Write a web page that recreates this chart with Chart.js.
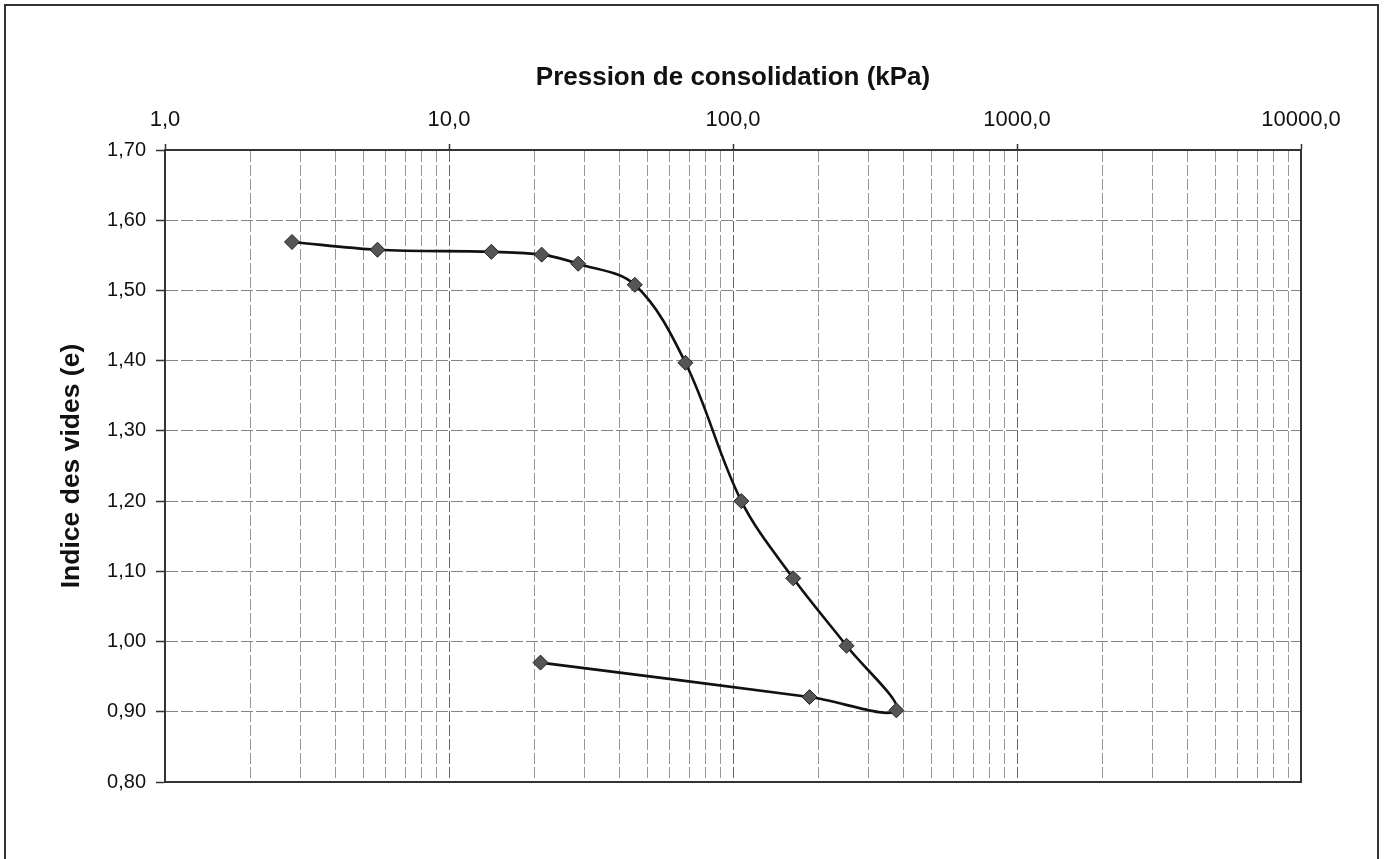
<!DOCTYPE html>
<html>
<head>
<meta charset="utf-8">
<script src="https://cdn.jsdelivr.net/npm/chart.js@4/dist/chart.umd.min.js"></script>
<style>
  html, body { margin: 0; padding: 0; background: #fff; }
  #wrap { position: absolute; left: 0; top: 0; width: 1384px; height: 859px; }
</style>
</head>
<body>
<div id="wrap"><canvas id="c" width="1384" height="859"></canvas></div>
<script>
// Essai oedométrique : indice des vides en fonction de la pression (chargement puis déchargement)
const pressions = [2.8, 5.6, 14.1, 21.2, 28.5, 45.1, 68, 107, 163, 251, 376, 186, 21.0];
const indicesVides = [1.569, 1.558, 1.555, 1.551, 1.538, 1.508, 1.397, 1.200, 1.090, 0.994, 0.902, 0.921, 0.970];

// Graduations de l'axe logarithmique
const decades = [1, 10, 100, 1000, 10000];
const xTickLabels = ['1,0', '10,0', '100,0', '1000,0', '10000,0'];
const yTickLabels = ['0,80', '0,90', '1,00', '1,10', '1,20', '1,30', '1,40', '1,50', '1,60', '1,70'];
const yTickValues = [0.8, 0.9, 1.0, 1.1, 1.2, 1.3, 1.4, 1.5, 1.6, 1.7];

const FONT = "'Liberation Sans', Arial, Helvetica, sans-serif";

const points = pressions.map((p, i) => ({ x: p, y: indicesVides[i] }));

const isMajor = v => decades.some(d => Math.abs(v - d) < 1e-9 * d);

const framePlugin = {
  id: 'frame',
  beforeDraw(chart) {
    const ctx = chart.ctx;
    ctx.save();
    ctx.fillStyle = '#fff';
    ctx.fillRect(0, 0, chart.width, chart.height);
    ctx.strokeStyle = '#333';
    ctx.lineWidth = 2;
    ctx.strokeRect(5, 5, 1373, 900);
    ctx.restore();
  },
  beforeDatasetsDraw(chart) {
    const a = chart.chartArea;
    const ctx = chart.ctx;
    ctx.save();
    ctx.strokeStyle = '#333';
    ctx.lineWidth = 2;
    ctx.strokeRect(a.left, a.top, a.right - a.left, a.bottom - a.top);
    ctx.restore();
  }
};

new Chart(document.getElementById('c'), {
  type: 'scatter',
  data: {
    datasets: [{
      data: points,
      showLine: true,
      tension: 0.35,
      borderColor: '#111',
      borderWidth: 2.6,
      pointStyle: 'rectRot',
      pointRadius: 7.5,
      pointBackgroundColor: '#555',
      pointBorderColor: '#222',
      pointBorderWidth: 1,
      clip: false
    }]
  },
  options: {
    responsive: false,
    animation: false,
    events: [],
    layout: { padding: { left: 0, top: 0, right: 83, bottom: 77 } },
    plugins: { legend: { display: false }, tooltip: { enabled: false } },
    scales: {
      x: {
        type: 'logarithmic',
        position: 'top',
        min: 1,
        max: 10000,
        afterBuildTicks(scale) {
          const t = [];
          for (let d = 0; d < decades.length; d++) {
            const base = decades[d];
            if (d === decades.length - 1) { t.push({ value: base }); break; }
            for (let m = 1; m <= 9; m++) t.push({ value: base * m });
          }
          scale.ticks = t;
        },
        afterFit(scale) { scale.height = 150; },
        ticks: {
          autoSkip: false,
          maxRotation: 0,
          minRotation: 0,
          padding: 11,
          color: '#111',
          font: { family: FONT, size: 22 },
          callback(value) {
            const i = decades.findIndex(d => Math.abs(value - d) < 1e-9 * d);
            return i >= 0 ? xTickLabels[i] : '';
          }
        },
        grid: {
          drawTicks: true,
          tickLength: 6,
          lineWidth: 1,
          color: ctx => (ctx.tick && isMajor(ctx.tick.value)) ? '#666' : '#969696',
          tickColor: ctx => (ctx.tick && isMajor(ctx.tick.value)) ? '#333' : 'rgba(0,0,0,0)',
          tickWidth: 1.5
        },
        border: {
          display: true,
          color: '#333',
          width: 2,
          dash: ctx => (ctx.tick ? [11, 3] : [])
        },
        title: {
          display: true,
          text: 'Pression de consolidation (kPa)',
          color: '#111',
          font: { family: FONT, size: 26, weight: 'bold' },
          padding: { top: 62, bottom: 0 }
        }
      },
      y: {
        type: 'linear',
        position: 'left',
        min: 0.8,
        max: 1.7,
        afterBuildTicks(scale) {
          scale.ticks = yTickValues.map(v => ({ value: v }));
        },
        afterFit(scale) { scale.width = 165; },
        ticks: {
          padding: 10,
          color: '#111',
          font: { family: FONT, size: 20 },
          callback(value) {
            const i = yTickValues.findIndex(v => Math.abs(v - value) < 1e-6);
            return i >= 0 ? yTickLabels[i] : '';
          }
        },
        grid: {
          drawTicks: true,
          tickLength: 9,
          lineWidth: 1,
          color: '#838383',
          tickColor: '#333',
          tickWidth: 1.5
        },
        border: {
          display: true,
          color: '#333',
          width: 2,
          dash: ctx => (ctx.tick ? [12, 3] : [])
        },
        title: {
          display: true,
          text: 'Indice des vides (e)',
          color: '#111',
          font: { family: FONT, size: 26.5, weight: 'bold' },
          padding: { top: 56, bottom: 0 }
        }
      }
    }
  },
  plugins: [framePlugin]
});
</script>
</body>
</html>
